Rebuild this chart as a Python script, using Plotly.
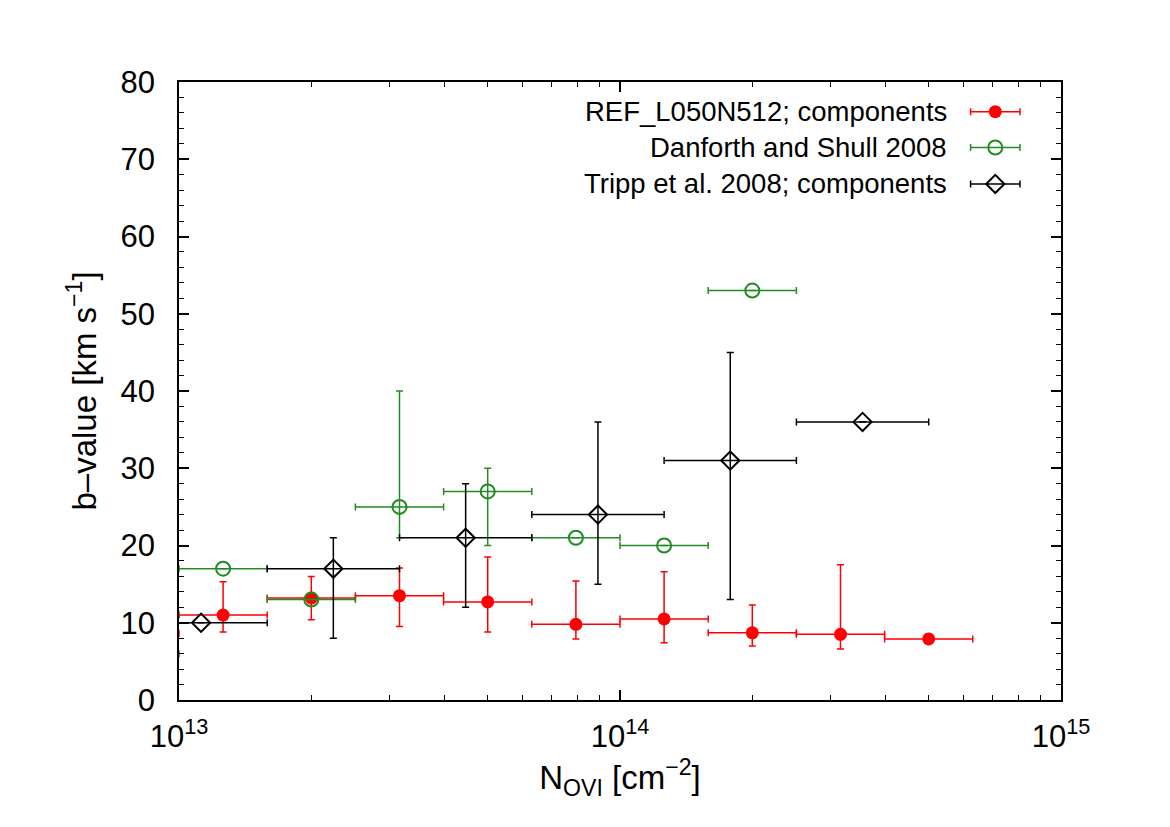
import numpy as np
import plotly.graph_objects as go

# ---------------- data ----------------
# REF_L050N512; components  (bins of 0.2 dex in log N)
ref_logN = [12.9, 13.1, 13.3, 13.5, 13.7, 13.9, 14.1, 14.3, 14.5, 14.7]
ref_logN_lo = [12.8, 13.0, 13.2, 13.4, 13.6, 13.8, 14.0, 14.2, 14.4, 14.6]
ref_logN_hi = [13.0, 13.2, 13.4, 13.6, 13.8, 14.0, 14.2, 14.4, 14.6, 14.8]
ref_b = [8.6, 11.0, 13.2, 13.5, 12.7, 9.8, 10.5, 8.7, 8.5, 7.9]
ref_b_hi = [11.0, 15.3, 16.0, 17.1, 18.5, 15.4, 16.6, 12.3, 17.5, 7.9]
ref_b_lo = [7.0, 8.8, 10.4, 9.5, 8.8, 7.9, 7.4, 7.0, 6.6, 7.9]

# Danforth and Shull 2008
ds_logN = [12.9, 13.1, 13.3, 13.5, 13.7, 13.9, 14.1, 14.3]
ds_logN_lo = [12.8, 13.0, 13.2, 13.4, 13.6, 13.8, 14.0, 14.2]
ds_logN_hi = [13.0, 13.2, 13.4, 13.6, 13.8, 14.0, 14.2, 14.4]
ds_b = [6.0, 17.0, 13.0, 25.0, 27.0, 21.0, 20.0, 53.0]
ds_b_hi = [6.0, 17.0, 13.0, 40.0, 30.0, 21.0, 20.0, 53.0]
ds_b_lo = [6.0, 17.0, 13.0, 21.0, 20.0, 21.0, 20.0, 53.0]

# Tripp et al. 2008; components
tr_logN = [13.05, 13.35, 13.65, 13.95, 14.25, 14.55]
tr_logN_lo = [12.9, 13.2, 13.5, 13.8, 14.1, 14.4]
tr_logN_hi = [13.2, 13.5, 13.8, 14.1, 14.4, 14.7]
tr_b = [10.0, 17.0, 21.0, 24.0, 31.0, 36.0]
tr_b_hi = [10.0, 21.0, 28.0, 36.0, 45.0, 36.0]
tr_b_lo = [10.0, 8.0, 12.0, 15.0, 13.0, 36.0]

x_tickvals = [1e13, 1e14, 1e15]
x_ticktext = ["10<sup>13</sup>", "10<sup>14</sup>", "10<sup>15</sup>"]

RED = "#ff0000"
GREEN = "#228b22"
BLACK = "#000000"
FONT = "Liberation Sans, Arial, sans-serif"


def series(logN, lo, hi, b, bhi, blo, name, color, symbol, size, lw):
    x = 10 ** np.array(logN)
    xp = 10 ** np.array(hi) - x
    xm = x - 10 ** np.array(lo)
    yp = np.array(bhi) - np.array(b)
    ym = np.array(b) - np.array(blo)
    return go.Scatter(
        x=x, y=b, mode="markers", name=name, showlegend=False,
        marker=dict(symbol=symbol, size=size, color=color,
                    line=dict(color=color, width=lw)),
        error_x=dict(type="data", array=xp, arrayminus=xm, symmetric=False,
                     color=color, thickness=1.5, width=3.5),
        error_y=dict(type="data", array=yp, arrayminus=ym, symmetric=False,
                     color=color, thickness=1.5, width=3.5),
        cliponaxis=True,
    )


fig = go.Figure()
fig.add_trace(series(ref_logN, ref_logN_lo, ref_logN_hi, ref_b, ref_b_hi, ref_b_lo,
                     "REF_L050N512; components", RED, "circle", 13, 0))
fig.add_trace(series(ds_logN, ds_logN_lo, ds_logN_hi, ds_b, ds_b_hi, ds_b_lo,
                     "Danforth and Shull 2008", GREEN, "circle-open", 14, 2))
fig.add_trace(series(tr_logN, tr_logN_lo, tr_logN_hi, tr_b, tr_b_hi, tr_b_lo,
                     "Tripp et al. 2008; components", BLACK, "diamond-open", 14, 2))

# ---------------- legend (text on the left, key on the right) ----------------
leg_names = ["REF_L050N512; components", "Danforth and Shull 2008",
             "Tripp et al. 2008; components"]
leg_colors = [RED, GREEN, BLACK]
leg_symbols = ["circle", "circle-open", "diamond-open"]
leg_sizes = [13, 14, 14]
leg_lw = [0, 2, 2]
leg_y = [0.952, 0.894, 0.835]
key_x = 0.9255
text_x = 0.873

for nm, c, s, sz, lw, yy in zip(leg_names, leg_colors, leg_symbols, leg_sizes, leg_lw, leg_y):
    fig.add_trace(go.Scatter(
        x=[key_x], y=[yy], xaxis="x2", yaxis="y2", mode="markers",
        showlegend=False, hoverinfo="skip",
        marker=dict(symbol=s, size=sz, color=c, line=dict(color=c, width=lw)),
        error_x=dict(type="constant", value=0.028, color=c, thickness=1.5, width=3.5),
    ))
    fig.add_annotation(x=text_x, y=yy, xref="paper", yref="paper", text=nm,
                       showarrow=False, xanchor="right", yanchor="middle",
                       font=dict(family=FONT, size=27.5, color="black"))

minor_x = [m * 10 ** e for e in (13, 14) for m in range(2, 10)]

fig.update_layout(
    width=1170, height=827,
    margin=dict(l=171, r=117, t=74, b=135),
    paper_bgcolor="white", plot_bgcolor="white",
    font=dict(family=FONT, size=31, color="black"),
    showlegend=False,
    xaxis=dict(
        type="log", range=[13, 15],
        tickvals=x_tickvals, ticktext=x_ticktext,
        ticks="inside", ticklen=10, tickwidth=1.5, tickcolor="black",
        minor=dict(ticks="inside", ticklen=5, tickwidth=1.2, tickcolor="black",
                   tickvals=minor_x),
        showline=True, linewidth=1.5, linecolor="black", mirror="allticks",
        showgrid=False, zeroline=False,
        tickfont=dict(family=FONT, size=31),
        ticklabelstandoff=8,
        title=dict(text="N<sub>OVI</sub> [cm<sup>−2</sup>]",
                   font=dict(family=FONT, size=33), standoff=6),
    ),
    yaxis=dict(
        range=[0, 80], dtick=10, tick0=0,
        ticks="inside", ticklen=10, tickwidth=1.5, tickcolor="black",
        minor=dict(ticks="inside", ticklen=5, tickwidth=1.2, tickcolor="black", dtick=2),
        showline=True, linewidth=1.5, linecolor="black", mirror="allticks",
        showgrid=False, zeroline=False,
        tickfont=dict(family=FONT, size=31),
        ticklabelstandoff=16,
        title=dict(text="b–value [km s<sup>−1</sup>]",
                   font=dict(family=FONT, size=33), standoff=14),
    ),
    xaxis2=dict(overlaying="x", range=[0, 1], visible=False, fixedrange=True),
    yaxis2=dict(overlaying="y", range=[0, 1], visible=False, fixedrange=True),
)

fig.write_html("out.html")
